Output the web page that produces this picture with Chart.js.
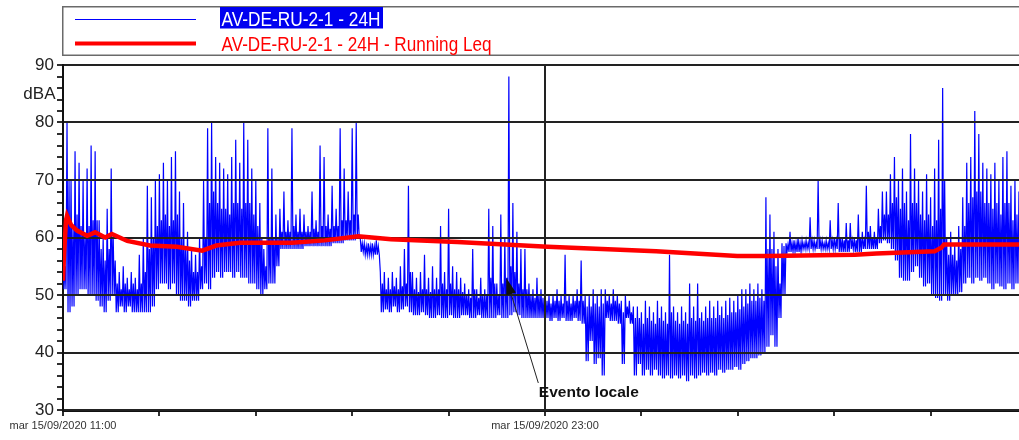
<!DOCTYPE html>
<html><head><meta charset="utf-8">
<script src="https://cdn.jsdelivr.net/npm/chart.js@4.4.1/dist/chart.umd.min.js"></script>
<style>
html,body{margin:0;padding:0;background:#fff;overflow:hidden;width:1019px;height:440px}
#wrap{width:1019px;height:440px;overflow:hidden;position:relative}
canvas{display:block}
</style>
</head><body><div id="wrap"><canvas id="c" width="1030" height="440"></canvas></div>
<script>
// ---------- data ----------
const seriesNames = ['AV-DE-RU-2-1 - 24H', 'AV-DE-RU-2-1 - 24H - Running Leq'];
const xTickLabels = ['mar 15/09/2020 11:00', 'mar 15/09/2020 23:00'];
const xLabelMinutes = [0, 720];          // minutes after 11:00
const yAxisTitle = 'dBA';
const sampleStepMin = 6;                  // one group of readings every 6 minutes
// per-interval maximum level (dBA)
const levelHigh = [
  58,80,70,75,73,70,72,76,75,63,
  60,65,72,56,54,55,53,54,53,57,
  60,69,67,70,71,73,70,74,75,68,
  66,61,58,57,60,70,79,80,74,73,
  72,71,74,77,73,80,77,72,70,66,
  58,79,72,64,65,68,63,79,64,65,
  64,62,68,63,76,74,64,69,65,79,
  72,68,79,80,60,59,59,59,59.5,54,
  54,53,54,53,55,58,69,54,53,54,
  57,53,55,53,62,54,65,55,54,53,
  52,51,58,51,53,51,65,62,52,64,
  60,88,66,61,58,58,52,51,53,51,
  50,50,50,51,50,57,50,50,51,56,
  50,50,51,50,51,51,50,51,50,49,
  50,49,48,48,47,49,48,47,49,48,
  47,57,48,47,48,47,52,48,52,47,
  48,49,48,49,48,49,49.5,49,50,51,
  51,52,51,52,51,67,64,61,58,59,
  59,61,59.5,60,59.5,59.5,63.5,59.5,70,59.5,
  59.5,63,60,66,60,62.5,62.5,60,64,61,
  69,62,61,65,68,68,71,74,70,72,
  68,78,72,70,68,71,67,72,77,86,
  60,61,59,62,67,73,74,82,78,73,
  72,71,73,70,74,75,69,70,68,67
];
// per-interval upper edge of the dense band (dBA)
const levelTypical = [
  55,70,62,64,62,60,62,63,63,58,
  56,58,60,52,51,52,51,52,51,52,
  54,58,60,62,63,64,62,63,64,60,
  58,56,54,54,55,60,66,68,66,65,
  65,64,66,66,65,66,66,64,62,60,
  55,60,60,60,61,61,61,62,61,61,
  61,61,61.5,61,62,62,61.5,62,62,63,
  63,63,64,64,59,58.5,58.5,58.5,58.5,52,
  51,51,51.5,51,51.5,52,54,51,50.5,51,
  51,50.5,51,51,52,51,52,51,51,50.5,
  50,49.5,51,49.5,50,50,53,52,50,52,
  53,55,54,52,51,51,50,49.5,50,49.5,
  49,48.5,49,49,48.5,49,48.5,49,49,49,
  48,48,48.5,48,48.5,49,48.5,49,48.5,47,
  48,47,46,46,45,46,45.5,45,46,45.5,
  45,47,45.5,45,45.5,45,46,45.5,46,45.5,
  46,46,46,46.5,46,46.5,47,47,47.5,48,
  48.5,49,49,49.5,49,58,58,55,52,58.5,
  58.8,59,59,59,59,59,59.5,59,59.5,59,
  59,59.5,59.5,60,59.5,59.5,59.5,59.5,60,59.5,
  61,60,60,62,64,64,66,67,65,66,
  63,66,66,64,63,64,62,63,65,70,
  57,57,56,58,62,66,67,68,68,66,
  66,65,66,64,66,66,63,64,62,61
];
// per-interval minimum level (dBA)
const levelLow = [
  51,47,48,50,51,51,50,50,49,48,
  47,49,50,47,48,47,48,47,47,47,
  47,47,48,51,52,52,51,52,50,49,
  49,48,49,49,51,52,51,53,54,53,
  54,54,53,54,53,53,52,52,51,50,
  51,52,52,55,58,58,58,58,58,58,
  58.5,58.5,58.5,58.5,58.5,58.5,58.5,59,59,59,
  59.5,59.5,59.5,60,57.5,57,57,57,57,47,
  47.5,47,48,47,47.5,48,47,46.5,46.5,47,
  46.5,46,46,46.5,46,46,46.5,46,46,46.5,
  46.5,46,46,46.5,46,46,46,46,46.5,46,
  46,46.5,47,46.5,46,46,46,46,46,46,
  46,45.5,46,45.5,46,45.5,45.5,46,45.5,45,
  38.5,42,38,39,36,46,45.5,45.5,45,38,
  46,45,36,38,36,37,36,37,36,35.5,
  36,35.5,36,35.5,36,35,36,35.5,36,36.5,
  36,36.5,36,37,36.5,37,37,37.5,37,38,
  38.5,39,39,39.5,40,41,43,41,46,50,
  57.5,57.5,57.5,57.5,58,58,58,58,58,58,
  58,58,58,57.5,57.5,57.5,58,57.5,57.5,58,
  58,58,58,59,59.5,59,58,56,53,52.5,
  52.5,54,55,53,51.5,52,50,49.5,49,50,
  49,50,50,50.5,52,53,52,53,52.5,53,
  52,51,52,51.5,51,52,51,52,51,52
];
// running Leq
const leqMinutes = [0,1.5,4.5,6,12,21,36,48,63,73,96,130,170,208,229,264,294,342,391,441,490,589,724,886,1007,1053,1183,1215,1302,1312,1316,1440];
const leqValues  = [52.5,57,63,63.8,62.2,61.2,60.3,60.9,60.0,60.6,59.4,58.6,58.4,57.7,58.6,59.1,59.1,59.1,59.5,60.2,59.7,59.2,58.4,57.6,56.8,56.8,57.0,57.2,57.6,58.2,58.8,58.8];
// annotation
const eventLabel = 'Evento locale';
const eventPoint = [662, 53];     // minute, dBA pointed at
const eventLabelAt = [710, 34.7]; // minute, dBA where the label line ends

// ---------- build datasets ----------
const bluePts = [];
const q = sampleStepMin / 4;
for (let i = 0; i < levelHigh.length; i++) {
  const t = i * sampleStepMin;
  bluePts.push({x: t, y: levelHigh[i]});
  bluePts.push({x: t + q, y: levelLow[i]});
  bluePts.push({x: t + 2 * q, y: levelTypical[i]});
  bluePts.push({x: t + 3 * q, y: levelLow[i]});
}
const redPts = leqMinutes.map((m, i) => ({x: m, y: leqValues[i]}));

const FONT = '"Liberation Sans", Arial, sans-serif';

function fitText(ctx, txt, x, y, font, w, color) {
  ctx.save();
  ctx.font = font;
  const m = ctx.measureText(txt).width;
  ctx.translate(x, y);
  ctx.scale(w / m, 1);
  ctx.fillStyle = color;
  ctx.textAlign = 'left';
  ctx.textBaseline = 'alphabetic';
  ctx.fillText(txt, 0, 0);
  ctx.restore();
}

const overlay = {
  id: 'overlay',
  afterDatasetDraw(chart, args) {
    if (args.index === 1) {
      chart.scales.x.drawGrid(chart.chartArea);
      chart.scales.y.drawGrid(chart.chartArea);
    }
  },
  afterDraw(chart) {
    const ctx = chart.ctx, xs = chart.scales.x, ys = chart.scales.y;
    ctx.save();
    // legend box
    ctx.strokeStyle = '#6a6a6a';
    ctx.lineWidth = 1.5;
    ctx.strokeRect(62.75, 6.75, 1100, 48.5);
    ctx.strokeStyle = chart.data.datasets[1].borderColor;
    ctx.lineWidth = 1;
    ctx.beginPath(); ctx.moveTo(75, 19.5); ctx.lineTo(196, 19.5); ctx.stroke();
    ctx.strokeStyle = chart.data.datasets[0].borderColor;
    ctx.lineWidth = 4;
    ctx.beginPath(); ctx.moveTo(75, 43.5); ctx.lineTo(196, 43.5); ctx.stroke();
    ctx.fillStyle = '#0000f0';
    ctx.fillRect(220, 7, 163, 21.5);
    fitText(ctx, seriesNames[0], 221.5, 26, '20px ' + FONT, 159, '#ffffff');
    fitText(ctx, seriesNames[1], 221.5, 50.5, '20px ' + FONT, 270, '#ff0000');
    // axis title
    ctx.font = '17px ' + FONT;
    ctx.fillStyle = '#222';
    ctx.textAlign = 'right';
    ctx.textBaseline = 'middle';
    ctx.fillText(yAxisTitle, 55.5, ys.getPixelForValue(85) + 1);
    // annotation
    const tx = xs.getPixelForValue(eventPoint[0]), ty = ys.getPixelForValue(eventPoint[1]);
    const ex = xs.getPixelForValue(eventLabelAt[0]), ey = ys.getPixelForValue(eventLabelAt[1]);
    const dx = ex - tx, dy = ey - ty, L = Math.hypot(dx, dy);
    const ux = dx / L, uy = dy / L;
    ctx.strokeStyle = '#222';
    ctx.lineWidth = 1;
    ctx.beginPath(); ctx.moveTo(tx + ux * 10, ty + uy * 10); ctx.lineTo(ex, ey); ctx.stroke();
    const bx = tx + ux * 17, by = ty + uy * 17;
    ctx.fillStyle = '#111';
    ctx.beginPath();
    ctx.moveTo(tx, ty);
    ctx.lineTo(bx - uy * 5, by + ux * 5);
    ctx.lineTo(bx + uy * 5, by - ux * 5);
    ctx.closePath(); ctx.fill();
    fitText(ctx, eventLabel, ex + 0.5, ey + 14, 'bold 15px ' + FONT, 100, '#111');
    ctx.restore();
  }
};

new Chart(document.getElementById('c'), {
  type: 'line',
  data: {
    datasets: [
      {label: seriesNames[1], data: redPts, borderColor: '#ff0000', borderWidth: 4.5,
       pointRadius: 0, tension: 0, fill: false},
      {label: seriesNames[0], data: bluePts, borderColor: '#0000ff', borderWidth: 1.2,
       pointRadius: 0, tension: 0, fill: false}
    ]
  },
  options: {
    responsive: false,
    animation: false,
    devicePixelRatio: 1,
    layout: {padding: {top: 65, right: 3, left: 0, bottom: 0}},
    plugins: {legend: {display: false}, tooltip: {enabled: false}},
    scales: {
      x: {
        type: 'linear', min: 0, max: 1440,
        afterFit: s => { s.height = 30; },
        ticks: {
          stepSize: 144, autoSkip: false, maxRotation: 0, padding: 3,
          color: '#333', font: {family: FONT, size: 11},
          callback: v => { const k = xLabelMinutes.indexOf(Math.round(v)); return k >= 0 ? xTickLabels[k] : ''; }
        },
        grid: {
          color: c => (c.tick && Math.round(c.tick.value) === 720) ? '#222' : 'rgba(0,0,0,0)',
          lineWidth: 2, tickColor: '#222', tickLength: 6, tickWidth: 1.5
        },
        border: {color: '#111', width: 3}
      },
      y: {
        min: 30, max: 90,
        afterFit: s => { s.width = 63; },
        ticks: {
          stepSize: 2, maxTicksLimit: 100, autoSkip: false, padding: 3,
          color: '#222', font: {family: FONT, size: 17},
          callback: v => (Math.round(v) % 10 === 0 ? String(Math.round(v)) : '')
        },
        grid: {
          color: c => (c.tick && Math.round(c.tick.value) % 10 === 0) ? '#222' : 'rgba(0,0,0,0)',
          lineWidth: 2, tickColor: '#222', tickLength: 6, tickWidth: 1.5
        },
        border: {color: '#111', width: 2}
      }
    }
  },
  plugins: [overlay]
});
</script>
</body></html>
